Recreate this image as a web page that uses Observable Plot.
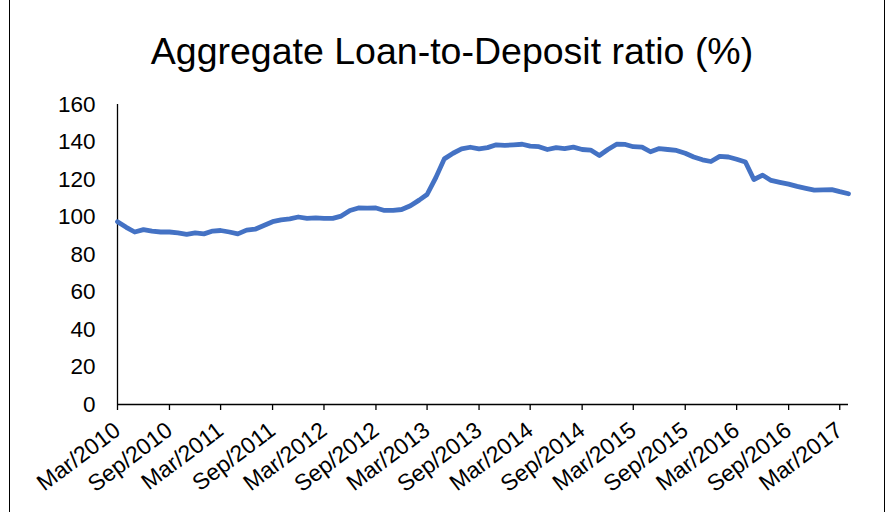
<!DOCTYPE html>
<html>
<head>
<meta charset="utf-8">
<script src="https://cdn.jsdelivr.net/npm/d3@7"></script>
<script src="https://cdn.jsdelivr.net/npm/@observablehq/plot@0.6"></script>
<style>
  html, body { margin: 0; padding: 0; background: #fff; }
  #wrap { position: relative; width: 887px; height: 512px; overflow: hidden; font-family: "Liberation Sans", Arial, sans-serif; }
  .vline { position: absolute; top: 0; width: 1px; height: 512px; background: #000; }
  #title { position: absolute; left: 14px; width: 876px; top: 29px; text-align: center; font-size: 37.5px; line-height: 44px; color: #000; }
  #chart { position: absolute; left: 0; top: 80px; }
</style>
</head>
<body>
<div id="wrap">
  <div class="vline" style="left:9px"></div>
  <div class="vline" style="left:884px"></div>
  <div id="title">Aggregate Loan-to-Deposit ratio (%)</div>
  <div id="chart"></div>
</div>
<script>
// First observation month (monthly series)
const startYear = 2010;
const startMonth = 3; // March

// Aggregate loan-to-deposit ratio (%), monthly from Mar 2010 to Apr 2017
const ratio = [
  97.5, 94.5, 92.0, 93.3, 92.5, 92.0, 92.0, 91.5, 90.7, 91.5,   // Mar10 - Dec10
  91.0, 92.5, 92.8, 92.0, 91.0, 93.0, 93.5, 95.5, 97.5, 98.5,   // Jan11 - Oct11
  99.0, 100.0, 99.3, 99.5, 99.3, 99.3, 100.5, 103.5, 104.8, 104.7, // Nov11 - Aug12
  104.8, 103.5, 103.5, 104.0, 106.0, 109.0, 112.0, 121.0, 131.0, 134.0, // Sep12 - Jun13
  136.3, 137.2, 136.3, 137.0, 138.5, 138.2, 138.5, 138.8, 137.8, 137.5, // Jul13 - Apr14
  136.0, 137.0, 136.5, 137.3, 136.0, 135.7, 132.8, 136.0, 138.8, 138.7, // May14 - Feb15
  137.5, 137.3, 134.8, 136.5, 136.0, 135.5, 134.0, 132.0, 130.5, 129.6, // Mar15 - Dec15
  132.3, 132.0, 130.8, 129.3, 120.0, 122.3, 119.5, 118.5, 117.5, 116.3, // Jan16 - Oct16
  115.3, 114.3, 114.5, 114.6, 113.5, 112.4                              // Nov16 - Apr17
];

// Axis tick labels (every six months)
const tickLabels = [
  "Mar/2010", "Sep/2010", "Mar/2011", "Sep/2011", "Mar/2012", "Sep/2012", "Mar/2013",
  "Sep/2013", "Mar/2014", "Sep/2014", "Mar/2015", "Sep/2015", "Mar/2016", "Sep/2016", "Mar/2017"
];
const yTicks = [0, 20, 40, 60, 80, 100, 120, 140, 160];

const start = new Date(Date.UTC(startYear, startMonth - 1, 1));
const data = ratio.map((v, i) => ({ date: d3.utcMonth.offset(start, i), value: v }));
const end = data[data.length - 1].date;
const tickDates = tickLabels.map((_, i) => d3.utcMonth.offset(start, 6 * i));
const labelOf = new Map(tickDates.map((d, i) => [+d, tickLabels[i]]));

const chart = Plot.plot({
  width: 887,
  height: 432,
  marginTop: 24,
  marginBottom: 108,
  marginLeft: 117,
  marginRight: 39,
  style: { fontFamily: "'Liberation Sans', Arial, sans-serif", color: "#000", background: "transparent", overflow: "visible" },
  x: { type: "utc", domain: [start, end] },
  y: { domain: [0, 160] },
  marks: [
    Plot.axisY({ ticks: yTicks, tickSize: 0, tickPadding: 22, fontSize: 22.5, label: null }),
    Plot.axisX({ ticks: tickDates, tickSize: 6, tickPadding: 17, tickRotate: -37, fontSize: 23,
                 tickFormat: d => labelOf.get(+d), label: null, strokeWidth: 1.3 }),
    Plot.ruleY([0], { stroke: "#000", strokeWidth: 1.5 }),
    Plot.ruleX([start], { stroke: "#000", strokeWidth: 1.3 }),
    Plot.lineY(data, { x: "date", y: "value", stroke: "#4472C4", strokeWidth: 4.8,
                       strokeLinejoin: "round", strokeLinecap: "round" })
  ]
});
document.getElementById("chart").appendChild(chart);
</script>
</body>
</html>
